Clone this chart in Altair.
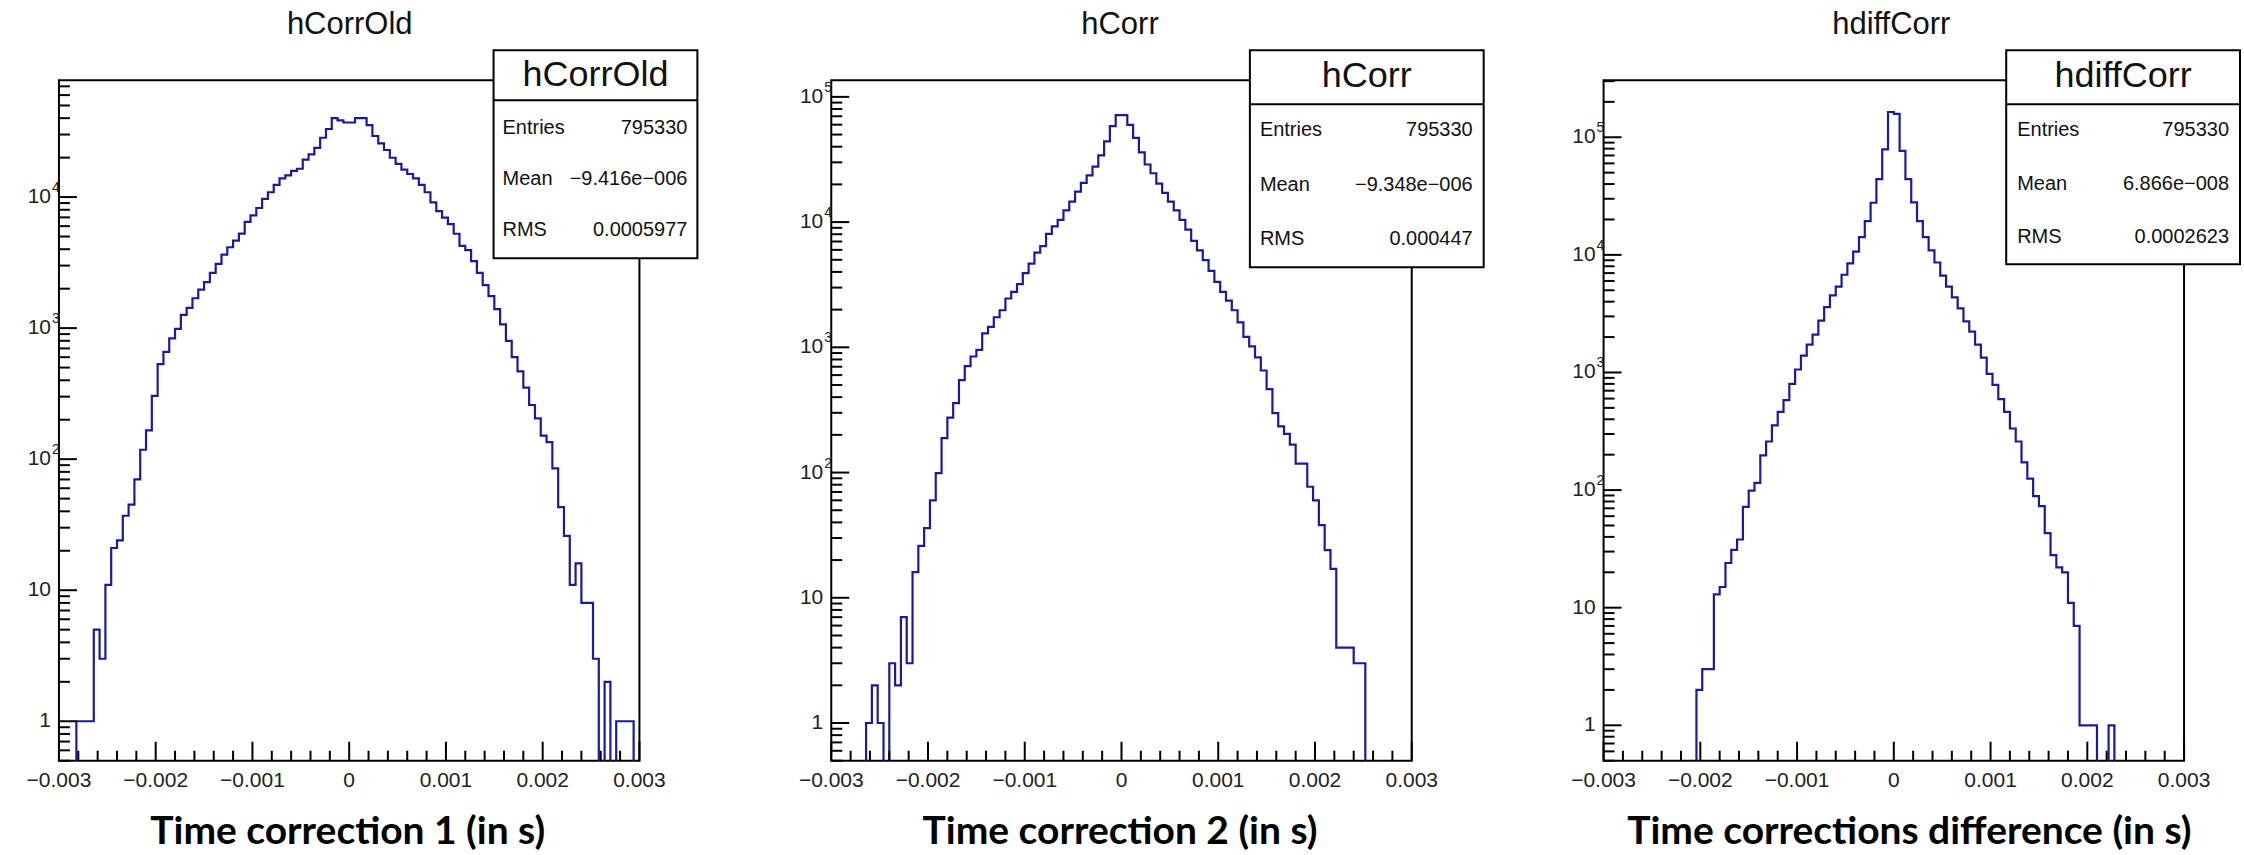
import altair as alt
import pandas as pd

# ---------------- data ----------------
TITLES = ["hCorrOld", "hCorr", "hdiffCorr"]
XLABELS = ["Time correction 1 (in s)", "Time correction 2 (in s)",
           "Time corrections difference (in s)"]
STAT_NAMES = ["Entries", "Mean", "RMS"]
ENTRIES = ["795330", "795330", "795330"]
MEANS = ["\u22129.416e\u2212006", "\u22129.348e\u2212006", "6.866e\u2212008"]
RMSS = ["0.0005977", "0.000447", "0.0002623"]

X_MIN, X_MAX, N_BINS = -0.003, 0.003, 100
X_TICKS = [-0.003, -0.002, -0.001, 0.0, 0.001, 0.002, 0.003]
X_TICK_LABELS = ["\u22120.003", "\u22120.002", "\u22120.001", "0", "0.001", "0.002", "0.003"]
Y_TICKS = [1, 10, 100, 1000, 10000, 100000]
Y_TICK_BASE = ["1", "10", "10", "10", "10", "10"]
Y_TICK_EXP = ["", "", "2", "3", "4", "5"]

counts_hCorrOld = [
    0, 0, 0, 1, 1, 1, 5, 3, 11, 21,
    24, 37, 45, 70, 118, 166, 304, 531, 659, 835,
    988, 1262, 1428, 1690, 1970, 2245, 2637, 3097, 3637, 4142,
    4648, 5253, 6461, 7247, 8256, 9700, 10880, 12390, 13900, 14660,
    15850, 16450, 19330, 21190, 23770, 28370, 33060, 40000, 38540, 37060,
    37060, 40000, 40000, 35400, 29240, 25650, 22860, 19950, 17900, 16220,
    15000, 13900, 12390, 10880, 9120, 7820, 6980, 6220, 5250, 4240,
    3930, 3243, 2637, 2128, 1757, 1396, 1067, 798, 601, 467,
    351, 259, 205, 151, 135, 85, 43, 26, 11, 16,
    8, 8, 3, 0, 2, 0, 1, 1, 1, 0]

counts_hCorr = [
    0, 0, 0, 0, 0, 0, 1, 2, 1, 0,
    3, 2, 7, 3, 16, 26, 36, 60, 99, 188,
    275, 358, 548, 708, 845, 953, 1292, 1459, 1739, 1977,
    2455, 2775, 3200, 3910, 4667, 5700, 6430, 8054, 9230, 10400,
    12420, 14580, 17530, 20590, 23600, 27730, 34130, 44150, 58400, 71400,
    71400, 59800, 47000, 36100, 28840, 24550, 20260, 17110, 14580, 12420,
    10400, 8720, 7080, 5940, 4975, 4075, 3333, 2775, 2360, 1977,
    1581, 1213, 1016, 831, 653, 463, 298, 234, 204, 167,
    118, 118, 77, 60, 38, 24, 17, 4, 4, 4,
    3, 3, 0, 0, 0, 0, 0, 0, 0, 0]

counts_hdiffCorr = [
    0, 0, 0, 0, 0, 0, 0, 0, 0, 0,
    0, 0, 0, 0, 0, 0, 2, 3, 3, 13,
    15, 24, 31, 38, 72, 99, 115, 197, 259, 355,
    463, 582, 800, 1060, 1393, 1726, 2099, 2761, 3597, 4531,
    5380, 6775, 8456, 10650, 14130, 19370, 27750, 44000, 79000, 164000,
    158000, 76500, 44000, 28000, 19370, 14130, 10930, 8610, 6653, 5380,
    4345, 3508, 2715, 2229, 1726, 1335, 973, 786, 593, 463,
    334, 259, 172, 125, 89, 73, 43, 28, 22, 20,
    11, 7, 1, 1, 1, 0, 0, 1, 0, 0,
    0, 0, 0, 0, 0, 0, 0, 0, 0, 0]

COUNTS = [counts_hCorrOld, counts_hCorr, counts_hdiffCorr]
Y_DOMAINS = [(0.5, 77800), (0.5, 135600), (0.5, 305000)]

# ---------------- styling ----------------
W, H = 581, 681
GAP = 192
BLUE = "#1a1a9e"
FONT = "Liberation Sans"
BOLD_FONT = "Lato"
TXT = "#111111"
LBL = "#222222"

# stats box geometry relative to each plot origin
BOXES = [
    dict(x1=435, x2=639, y1=-30, y2=178, div=20, head=-5, rows=[48, 99, 150], lx=444, vx=629),
    dict(x1=419, x2=653, y1=-30, y2=187, div=24, head=-4, rows=[50, 105, 159], lx=429, vx=642),
    dict(x1=403, x2=637, y1=-30, y2=184, div=24, head=-4, rows=[50, 104, 157], lx=414, vx=626),
]
XLABEL_X = [289, 289, 306]
TITLE_X = [291, 289, 288]

one = pd.DataFrame({"k": [0]})


def panel(i):
    counts = COUNTS[i]
    ymin, ymax = Y_DOMAINS[i]
    edges = [X_MIN + k * (X_MAX - X_MIN) / N_BINS for k in range(N_BINS + 1)]
    df = pd.DataFrame({"x": edges, "count": counts + [counts[-1]]})
    xs = alt.Scale(domain=[X_MIN, X_MAX], nice=False, zero=False)
    ys = alt.Scale(type="log", domain=[ymin, ymax], nice=False)

    decades = [10 ** d for d in range(-1, 7)]
    y_major = [v for v in Y_TICKS if ymin <= v <= ymax]
    y_minor = [k * d for d in decades for k in range(2, 10) if ymin <= k * d <= ymax]
    x_minor = [round(X_MIN + j * 0.0002, 6) for j in range(31)]
    x_minor = [v for v in x_minor if all(abs(v - t) > 1e-9 for t in X_TICKS)]

    hist = alt.Chart(df).transform_calculate(
        yp="max(datum.count, 0.2)"
    ).mark_line(interpolate="step-after", color=BLUE, strokeWidth=2.2, clip=True).encode(
        x=alt.X("x:Q", scale=xs, axis=None),
        y=alt.Y("yp:Q", scale=ys, axis=None),
    )

    def xrule(vals, length):
        return alt.Chart(pd.DataFrame({"t": vals})).mark_rule(color="black", strokeWidth=2).encode(
            x=alt.X("t:Q", scale=xs, axis=None), y=alt.value(H), y2=alt.value(H - length))

    def yrule(vals, length):
        return alt.Chart(pd.DataFrame({"t": vals})).mark_rule(color="black", strokeWidth=2).encode(
            y=alt.Y("t:Q", scale=ys, axis=None), x=alt.value(0), x2=alt.value(length))

    # tick labels as text placed through the scales
    xlab = alt.Chart(pd.DataFrame({"t": X_TICKS, "s": X_TICK_LABELS})).mark_text(
        font=FONT, fontSize=21, color=LBL, align="center", baseline="middle").encode(
        x=alt.X("t:Q", scale=xs, axis=None), y=alt.value(H + 20), text="s:N")
    ydf = pd.DataFrame({"t": Y_TICKS, "b": Y_TICK_BASE, "e": Y_TICK_EXP})
    ydf = ydf[(ydf.t >= ymin) & (ydf.t <= ymax)]
    ybase = alt.Chart(ydf).mark_text(
        font=FONT, fontSize=21, color=LBL, align="right", baseline="middle").encode(
        y=alt.Y("t:Q", scale=ys, axis=None), x=alt.value(-8), text="b:N")
    yexp = alt.Chart(ydf).mark_text(
        font=FONT, fontSize=14, color=LBL, align="left", baseline="middle", dy=-9).encode(
        y=alt.Y("t:Q", scale=ys, axis=None), x=alt.value(-7), text="e:N")

    b = BOXES[i]
    box = alt.Chart(one).mark_rect(fill="white", stroke="black", strokeWidth=2).encode(
        x=alt.value(b["x1"]), x2=alt.value(b["x2"]), y=alt.value(b["y1"]), y2=alt.value(b["y2"]))
    divider = alt.Chart(one).mark_rule(color="black", strokeWidth=2).encode(
        x=alt.value(b["x1"]), x2=alt.value(b["x2"]), y=alt.value(b["div"]))
    head = alt.Chart(pd.DataFrame({"t": [TITLES[i]]})).mark_text(
        font=FONT, fontSize=36, color=TXT, align="center", baseline="middle").encode(
        text="t:N", x=alt.value((b["x1"] + b["x2"]) / 2), y=alt.value(b["head"]))
    vals = [ENTRIES[i], MEANS[i], RMSS[i]]
    stat_layers = []
    for r in range(3):
        stat_layers.append(alt.Chart(pd.DataFrame({"t": [STAT_NAMES[r]]})).mark_text(
            font=FONT, fontSize=20, color=TXT, align="left", baseline="middle").encode(
            text="t:N", x=alt.value(b["lx"]), y=alt.value(b["rows"][r])))
        stat_layers.append(alt.Chart(pd.DataFrame({"t": [vals[r]]})).mark_text(
            font=FONT, fontSize=20, color=TXT, align="right", baseline="middle").encode(
            text="t:N", x=alt.value(b["vx"]), y=alt.value(b["rows"][r])))

    title = alt.Chart(pd.DataFrame({"t": [TITLES[i]]})).mark_text(
        font=FONT, fontSize=31, color=TXT, align="center", baseline="alphabetic").encode(
        text="t:N", x=alt.value(TITLE_X[i]), y=alt.value(-46))
    xlabel = alt.Chart(pd.DataFrame({"t": [XLABELS[i]]})).mark_text(
        font=BOLD_FONT, fontSize=39, fontWeight="bold", color="black", align="center",
        baseline="alphabetic").encode(
        text="t:N", x=alt.value(XLABEL_X[i]), y=alt.value(764))

    layers = []
    if i == 0:
        # transparent anchor spanning the whole page so the canvas is exactly 2244x855
        layers.append(alt.Chart(one).mark_rect(opacity=0).encode(
            x=alt.value(-58), x2=alt.value(2244 - 58), y=alt.value(-79), y2=alt.value(855 - 79)))
    layers += [hist, xrule(X_TICKS, 19), xrule(x_minor, 10), yrule(y_major, 18),
               yrule(y_minor, 11), xlab, ybase, yexp, box, divider, head] + stat_layers + [title, xlabel]
    return alt.layer(*layers).properties(width=W, height=H)


chart = alt.hconcat(panel(0), panel(1), panel(2), spacing=GAP, bounds="flush").properties(
    padding=0, background="white"
).configure_view(stroke="black", strokeWidth=2)

chart.save("out.html", embed_options={"renderer": "svg", "actions": False})
